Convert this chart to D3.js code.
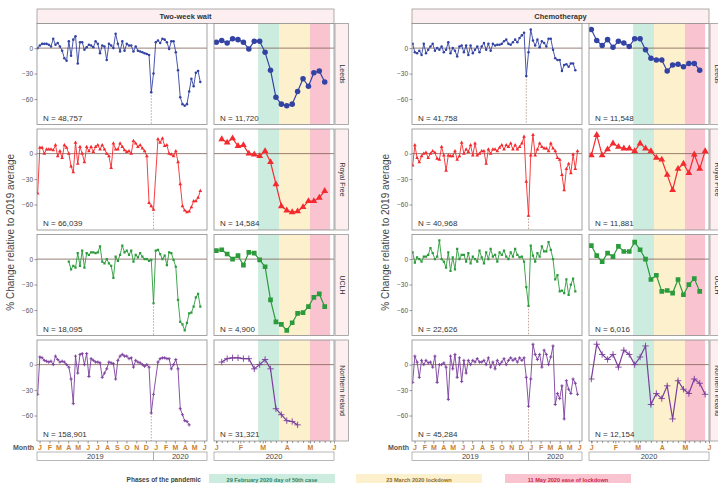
<!DOCTYPE html>
<html>
<head>
<meta charset="utf-8">
<script src="https://cdn.jsdelivr.net/npm/d3@7"></script>
<style>
  body { margin: 0; background: #fff; }
  svg { font-family: "Liberation Sans", Arial, sans-serif; display: block; }
</style>
</head>
<body>
<svg id="chart" width="718" height="483"></svg>
<script>
var groups = ["Two-week wait", "Chemotherapy"];
var sites = ["Leeds", "Royal Free", "UCLH", "Northern Ireland"];
var siteColors = ["#3343a3", "#f42a2e", "#2b9b3b", "#7a3e9d"];
var yTicks = [0, -30, -60];

// weekly values, 26 Dec 2018 .. 25 Dec 2019 (53 weeks) and 1 Jan .. 27 May 2020 (22 weeks)
var twwLeeds2019 = [0, 3, 5, 5, 5, 4, 2, 11, 4, 6, 2, -3, -12, -15, 8, -9, 10, 14, -18, 7,
  7, -2, 1, 4, 3, 1, 8, 5, -6, 3, 2, -14, 5, 3, 0, 17, 5, -4, 8, -3,
  5, 3, 3, -4, 2, -3, -4, -5, -6, -7, -8, -52, -30];
var twwLeeds2020 = [7, 9, 6, 11, 10, 7, -1, 8, 8, -5, -26, -58, -66, -68, -66, -51, -36, -45, -29, -27, -40, null];

var twwRoyalFree2019 = [-47, 7, 7, 0, 5, 5, 5, 4, 10, -3, 3, -5, 10, 7, 0, -15, -22, 13, -12, 8,
  0, -10, 8, 3, 8, 2, 8, 10, 5, 10, 5, 0, -3, -17, 12, 5, 5, 12, 8, 4,
  2, 3, 0, 15, 12, 8, 10, 6, 3, -3, -58, -62, -66];
var twwRoyalFree2020 = [null, 17, 13, 18, 9, 10, 0, -1, -3, 3, -10, -36, -62, -67, -69, -68, -63, -56, -56, -52, -44, null];

var twwUclh2019 = [null, null, null, null, null, null, null, null, null, null, null, null, null, null,
  -3, -12, -8, -10, 7, -8, 10, -10, 7, 5, 8, 8, 7, 8, 15, -3, -5, 0, -5, -8,
  -22, 3, -2, 5, 16, 8, 10, 5, 10, -3, 5, 2, 7, 3, 0, 0, -2, -1, -52];
var twwUclh2020 = [10, 11, 6, 0, 4, -7, 8, 7, -1, -9, -48, -74, -77, -84, -75, -64, -63, -56, -45, -41, -56, null];

var twwNi2019 = [-35, 9, 8, 5, 4, 3, 4, 0, 10, 6, 3, 4, 3, 0, -3, -17, -46, 10, -10, 12,
  13, 0, 13, -14, 7, 5, 3, 3, 2, -15, -10, -5, 3, 2, 1, -17, 5, 10, 12, 10,
  10, 7, 8, -3, 5, 3, 2, 0, -2, 0, -3, -57, -35];
var twwNi2020 = [null, 3, 7, 8, 8, 7, 7, -5, 0, 6, -5, -52, -59, -66, -67, -71, null, null, null, null, null, null];

var chemoLeeds2019 = [5, -5, -6, -3, -8, 5, -6, -2, 2, 5, -3, 0, -2, 2, -5, -2, 7, -6, 0, -3,
  -10, 2, 3, -5, 3, -8, 3, -6, -2, 2, -5, 2, 6, -2, 5, -3, 5, 3, 4, 4,
  5, 8, 10, 5, 4, 7, 10, 7, 12, 15, 18, -33, -5];
var chemoLeeds2020 = [22, 9, 3, 10, 1, 8, 6, 2, 11, 11, -2, -12, -14, -14, -27, -20, -19, -22, -18, -18, -26, null];

var chemoRoyalFree2019 = [-14, 10, -5, -10, -3, 0, 1, -5, 0, 3, 1, -6, -7, 8, -2, -20, -2, -3, -3, 3,
  -7, -3, 13, 0, 5, 2, 10, -2, 12, -2, 0, 3, 3, -12, 5, 0, 5, 5, 3, 7,
  10, 5, 10, 8, 12, 5, 10, 5, 8, 12, 20, -33, -73];
var chemoRoyalFree2020 = [-2, 22, -2, 5, 12, 8, 6, 6, 3, 12, 6, 3, -5, -7, -25, -43, -18, -12, -23, -1, -18, 3];

var chemoUclh2019 = [8, -4, 2, 0, -3, 3, 3, 5, 13, 7, 0, 3, 22, 0, -3, -10, 8, -14, 2, -12,
  12, 0, 5, 5, -3, 7, -5, 3, 0, -3, 10, 2, -5, 8, 0, 12, 3, 5, -3, 8,
  5, 10, 3, 0, 8, 3, 12, 5, 2, 3, -3, -33, -55];
var chemoUclh2020 = [16, 4, -3, 7, 3, 15, 9, 9, 20, 11, 0, -24, -19, -38, -37, -40, -24, -42, -30, -23, -38, null];

var chemoNi2019 = [-21, 10, 3, -15, 5, 0, 5, 2, 3, -3, 10, -21, 0, 0, 2, -3, -41, 10, -5, 12,
  -15, 8, -20, 5, -10, 5, 0, 5, 3, 7, 3, 3, 5, 0, 8, -3, 3, -5, 5, 0,
  3, 7, 0, 5, 8, 5, 7, 3, 8, 5, 8, -15, -49];
var chemoNi2020 = [-17, 24, 12, 6, 12, -3, 17, 12, 0, 9, 22, -47, -34, -40, -25, -64, -19, -29, -34, -17, -22, -35];

var twwNAll = ["48,757", "66,039", "18,095", "158,901"];
var twwN2020 = ["11,720", "14,584", "4,900", "31,321"];
var chemoNAll = ["41,758", "40,968", "22,626", "45,284"];
var chemoN2020 = ["11,548", "11,881", "6,016", "12,154"];

var phaseDates = ["2020-02-24", "2020-03-22", "2020-05-01", "2020-05-27"];
var phaseColors = ["#cbecdf", "#fdf0cd", "#f9c4d0"];
var phaseLabels = ["29 February 2020 day of 50th case", "23 March 2020 lockdown", "11 May 2020 ease of lockdown"];
var phaseTextColors = ["#2f8466", "#8c6d2e", "#cc1f45"];

var parse = d3.timeParse("%Y-%m-%d");
var weeks2019 = d3.range(53).map(function(i) { return d3.timeDay.offset(parse("2018-12-26"), 7 * i); });
var weeks2020 = d3.range(22).map(function(i) { return d3.timeDay.offset(parse("2020-01-01"), 7 * i); });

var series = [
  [[twwLeeds2019, twwLeeds2020], [twwRoyalFree2019, twwRoyalFree2020], [twwUclh2019, twwUclh2020], [twwNi2019, twwNi2020]],
  [[chemoLeeds2019, chemoLeeds2020], [chemoRoyalFree2019, chemoRoyalFree2020], [chemoUclh2019, chemoUclh2020], [chemoNi2019, chemoNi2020]]
];
var nLabels = [[twwNAll, twwN2020], [chemoNAll, chemoN2020]];

// layout
var groupDx = [0, 375];
var rowTop = [23.5, 129, 234.5, 340];
var panelH = 101;
var p1 = [37, 207], p2 = [214, 334];

var x1 = d3.scaleTime().domain([parse("2018-12-24"), parse("2020-06-10")]).range(p1);
var x2 = d3.scaleTime().domain([parse("2019-12-29"), parse("2020-06-01")]).range(p2);
var y = d3.scaleLinear().domain([-90, 29]).range([panelH, 0]);

var svg = d3.select("#chart");
var defs = svg.append("defs");

function marker(r, big) {
  if (r == 0) return d3.symbol().type(d3.symbolCircle).size(big ? 24 : 5)();
  if (r == 1) return d3.symbol().type(d3.symbolTriangle).size(big ? 20 : 6)();
  if (r == 2) return d3.symbol().type(d3.symbolSquare).size(big ? 22 : 5)();
  var s = big ? 3.2 : 1.6;
  return "M" + (-s) + ",0H" + s + "M0," + (-s) + "V" + s;
}

function drawPanel(parent, x, dates, vals, r, big, nText, clipId, withBands, dipLine) {
  var x0 = x.range()[0], xw = x.range()[1] - x0;
  var col = siteColors[r];
  parent.append("rect").attr("x", x0).attr("y", 0).attr("width", xw).attr("height", panelH).attr("fill", "#fff");

  if (withBands) {
    parent.selectAll(".band").data(phaseColors).enter().append("rect")
      .attr("x", function(d, i) { return x(parse(phaseDates[i])); })
      .attr("width", function(d, i) { return x(parse(phaseDates[i + 1])) - x(parse(phaseDates[i])); })
      .attr("y", 0).attr("height", panelH).attr("fill", function(d) { return d; });
  }

  parent.append("line").attr("x1", x0).attr("x2", x0 + xw)
    .attr("y1", y(0)).attr("y2", y(0)).attr("stroke", "#7d5f55").attr("stroke-width", 0.8);

  var pts = dates.map(function(d, i) { return { date: d, v: vals[i] }; })
    .filter(function(d) { return d.v !== null; });

  if (dipLine) {
    var tail = pts.filter(function(d) { return d.date >= parse("2019-12-10") && d.date <= parse("2019-12-26"); });
    var lowest = tail.reduce(function(a, b) { return b.v < a.v ? b : a; });
    parent.append("line").attr("x1", x(lowest.date)).attr("x2", x(lowest.date))
      .attr("y1", y(lowest.v)).attr("y2", panelH)
      .attr("stroke", "#a8806e").attr("stroke-width", 0.7).attr("stroke-dasharray", "1.5,1.5");
  }

  defs.append("clipPath").attr("id", clipId).append("rect")
    .attr("x", x0).attr("y", 0).attr("width", xw).attr("height", panelH);
  var gl = parent.append("g").attr("clip-path", "url(#" + clipId + ")");

  var line = d3.line().x(function(d) { return x(d.date); }).y(function(d) { return y(d.v); });
  gl.append("path").datum(pts).attr("d", line).attr("fill", "none")
    .attr("stroke", col).attr("stroke-width", big ? 1.2 : 0.9);

  var mk = marker(r, big);
  gl.selectAll(".pt").data(pts).enter().append("path")
    .attr("transform", function(d) { return "translate(" + x(d.date) + "," + y(d.v) + ")"; })
    .attr("d", mk)
    .attr("fill", r == 3 ? "none" : col)
    .attr("stroke", r == 3 ? col : "none")
    .attr("stroke-width", 0.9);

  parent.append("text").attr("x", x0 + 6).attr("y", panelH - 4)
    .attr("font-size", 8).attr("fill", "#333").text("N = " + nText);

  parent.append("rect").attr("x", x0).attr("y", 0).attr("width", xw).attr("height", panelH)
    .attr("fill", "none").attr("stroke", "#8c8c8c").attr("stroke-width", 0.8);
}

groups.forEach(function(groupName, g) {
  var G = svg.append("g").attr("transform", "translate(" + groupDx[g] + ",0)");

  // header strip
  G.append("rect").attr("x", p1[0]).attr("y", 9).attr("width", p2[1] - p1[0]).attr("height", 14.5)
    .attr("fill", "#fdefef").attr("stroke", "#999").attr("stroke-width", 0.8);
  G.append("text").attr("x", (p1[0] + p2[1]) / 2).attr("y", 19).attr("text-anchor", "middle")
    .attr("font-size", 7.5).attr("font-weight", "bold").attr("fill", "#333").text(groupName);

  sites.forEach(function(site, r) {
    var R = G.append("g").attr("transform", "translate(0," + rowTop[r] + ")");
    var s = series[g][r];
    var allDates = weeks2019.concat(weeks2020);
    var allVals = s[0].concat(s[1]);
    drawPanel(R, x1, allDates, allVals, r, false, nLabels[g][0][r], "c" + g + r + "a", false, true);
    drawPanel(R, x2, weeks2020, s[1], r, true, nLabels[g][1][r], "c" + g + r + "b", true, false);

    // row strip
    R.append("rect").attr("x", 335).attr("y", 0).attr("width", 13.5).attr("height", panelH)
      .attr("fill", "#fdefef").attr("stroke", "#999").attr("stroke-width", 0.8);
    R.append("text").attr("transform", "translate(339.5," + (panelH / 2) + ") rotate(90)")
      .attr("text-anchor", "middle").attr("font-size", 7).attr("fill", "#333").text(site);

    // y axis
    var ya = R.append("g").attr("transform", "translate(" + p1[0] + ",0)")
      .call(d3.axisLeft(y).tickValues(yTicks).tickSize(2.5).tickPadding(1.5));
    ya.select(".domain").remove();
    ya.selectAll("line").attr("stroke", "#555").attr("stroke-width", 0.6);
    ya.selectAll("text").attr("font-size", 6.5).attr("fill", "#555").attr("font-family", null);
  });

  // x axes
  var axY = rowTop[3] + panelH;
  var monthFmt = function(d) { return d3.timeFormat("%B")(d).charAt(0); };
  var ax1 = G.append("g").attr("transform", "translate(0," + axY + ")")
    .call(d3.axisBottom(x1).ticks(d3.timeMonth.every(1)).tickFormat(monthFmt).tickSize(2.5).tickPadding(1.5));
  var ax2w = G.append("g").attr("transform", "translate(0," + axY + ")")
    .call(d3.axisBottom(x2).tickValues(weeks2020).tickFormat("").tickSize(2));
  var ax2 = G.append("g").attr("transform", "translate(0," + axY + ")")
    .call(d3.axisBottom(x2).ticks(d3.timeMonth.every(1)).tickFormat(monthFmt).tickSize(2.5).tickPadding(1.5));
  [ax1, ax2w, ax2].forEach(function(a) {
    a.select(".domain").remove();
    a.selectAll("line").attr("stroke", "#555").attr("stroke-width", 0.6);
    a.selectAll("text").attr("font-size", 7).attr("font-weight", "bold")
      .attr("fill", "#c98030").attr("font-family", null);
  });
  G.append("text").attr("x", 34).attr("y", axY + 8.5).attr("text-anchor", "end")
    .attr("font-size", 7).attr("font-weight", "bold").attr("fill", "#555").text("Month");

  // year strips
  var yearBoxes = [
    [x1.range()[0], x1(parse("2019-12-25")), "2019"],
    [x1(parse("2019-12-25")), x1.range()[1], "2020"],
    [x2.range()[0], x2.range()[1], "2020"]
  ];
  yearBoxes.forEach(function(b) {
    G.append("rect").attr("x", b[0]).attr("y", 452).attr("width", b[1] - b[0]).attr("height", 8.5)
      .attr("fill", "#fff").attr("stroke", "#999").attr("stroke-width", 0.7);
    G.append("text").attr("x", (b[0] + b[1]) / 2).attr("y", 459).attr("text-anchor", "middle")
      .attr("font-size", 7.5).attr("fill", "#444").text(b[2]);
  });

  // y title
  G.append("text").attr("transform", "translate(14," + ((rowTop[0] + rowTop[3] + panelH) / 2) + ") rotate(-90)")
    .attr("text-anchor", "middle").attr("font-size", 10).attr("fill", "#444")
    .text("% Change relative to 2019 average");
});

// legend
var legendX = [[209, 335], [356, 482], [505, 631]];
svg.append("text").attr("x", 201).attr("y", 481.5).attr("text-anchor", "end")
  .attr("font-size", 6.5).attr("font-weight", "bold").attr("fill", "#444").text("Phases of the pandemic");
phaseLabels.forEach(function(lab, i) {
  svg.append("rect").attr("x", legendX[i][0]).attr("y", 474).attr("width", legendX[i][1] - legendX[i][0])
    .attr("height", 14).attr("fill", phaseColors[i]);
  svg.append("text").attr("x", (legendX[i][0] + legendX[i][1]) / 2).attr("y", 481.5)
    .attr("text-anchor", "middle").attr("font-size", 5.6).attr("font-weight", "bold")
    .attr("fill", phaseTextColors[i]).text(lab);
});
</script>
</body>
</html>
